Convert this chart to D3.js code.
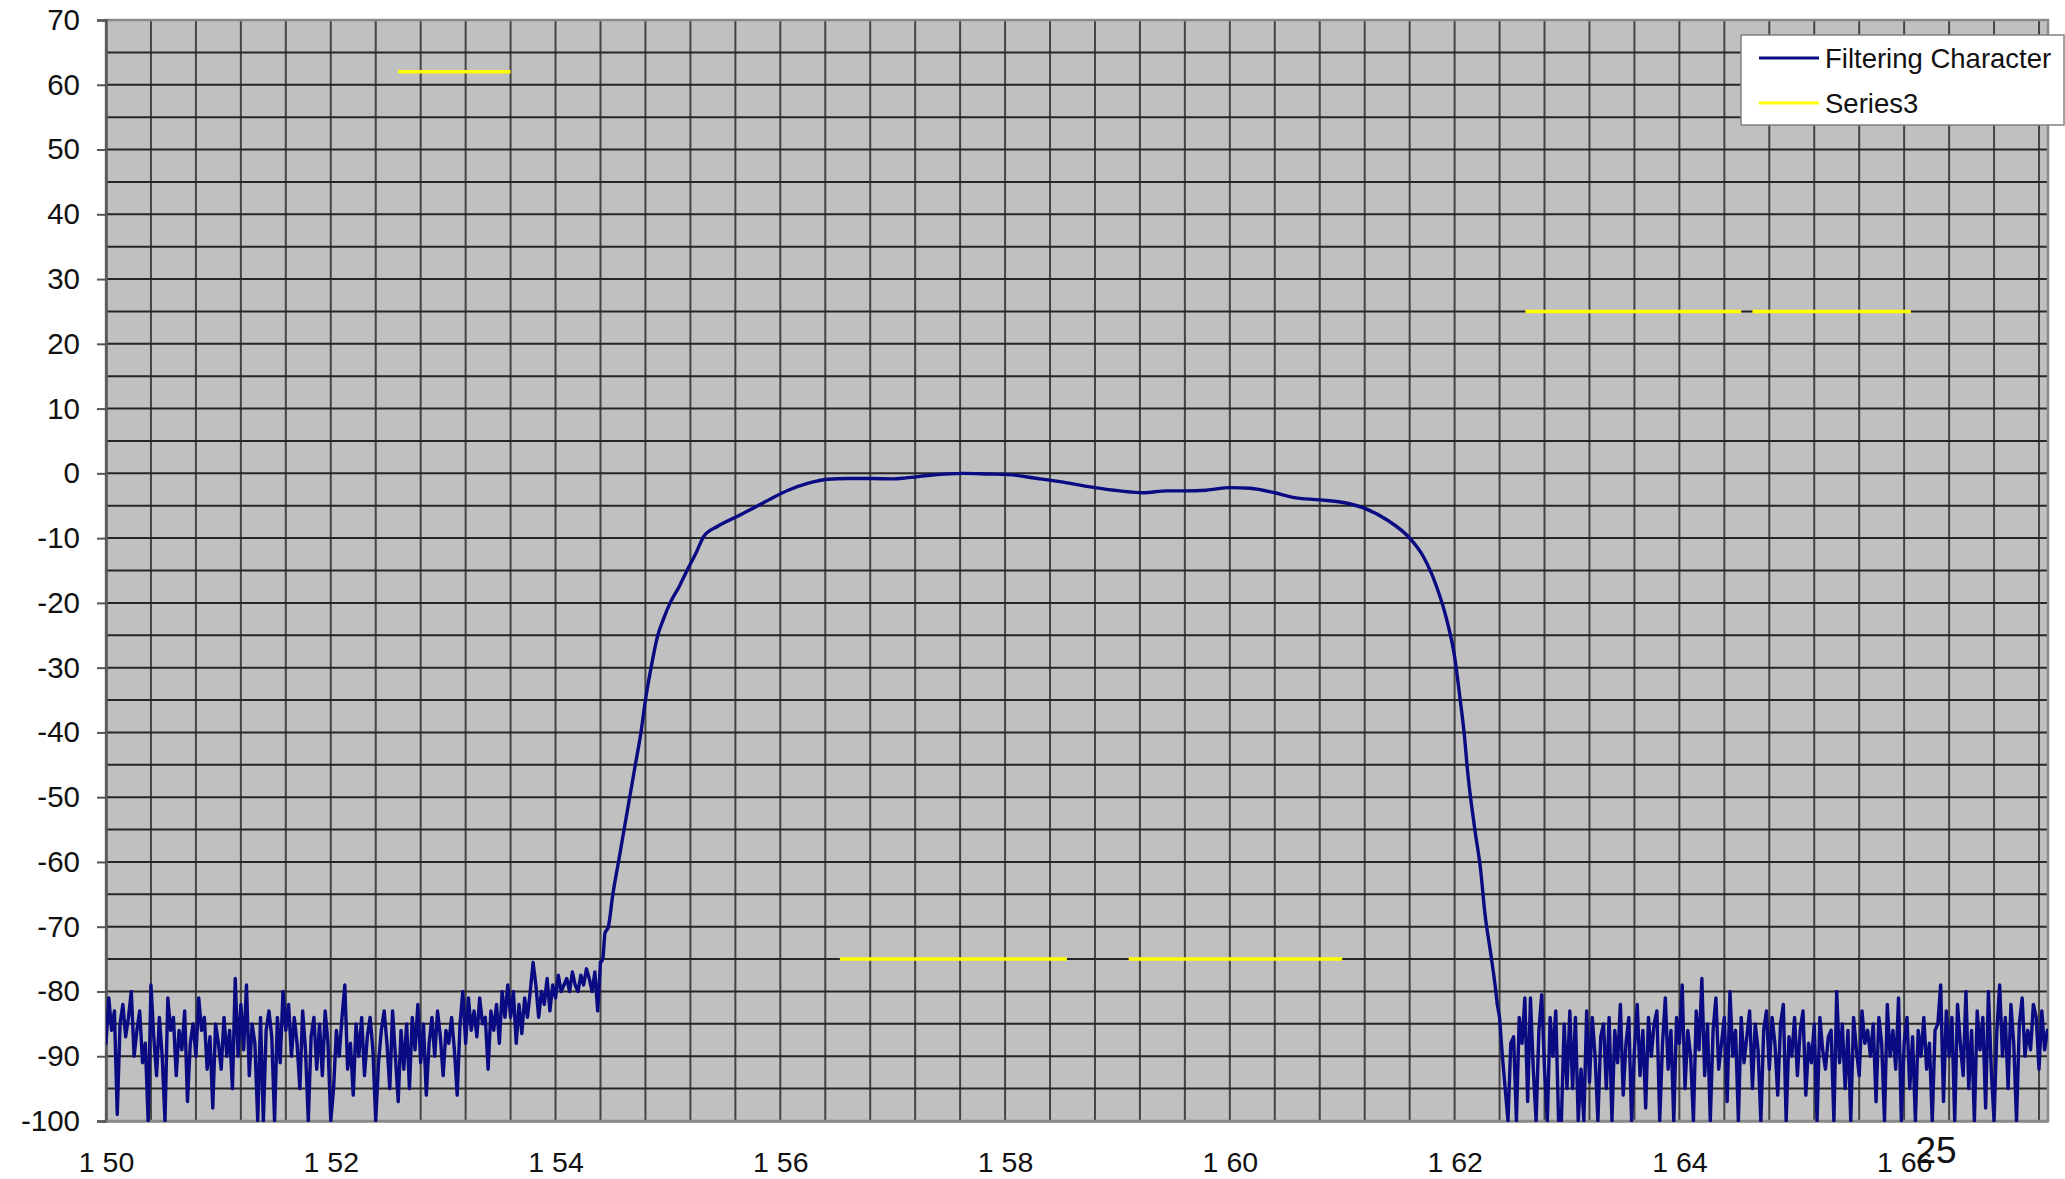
<!DOCTYPE html>
<html>
<head>
<meta charset="utf-8">
<script src="https://cdn.jsdelivr.net/npm/d3@7/dist/d3.min.js"></script>
<style>
  body { margin: 0; background: #fff; }
  svg { display: block; font-family: "Liberation Sans", Arial, sans-serif; }
</style>
</head>
<body>
<div id="chart"></div>
<script>
// x axis categories (nm) and their odd labels as printed on the chart
const xTickValues = [1500, 1520, 1540, 1560, 1580, 1600, 1620, 1640, 1660];
const xTickLabels = ["1 50", "1 52", "1 54", "1 56", "1 58", "1 60", "1 62", "1 64", "1 66"];
const yTickValues = [-100, -90, -80, -70, -60, -50, -40, -30, -20, -10, 0, 10, 20, 30, 40, 50, 60, 70];

// Filtering Character: noise floor below the band, sampled every 0.25 nm from 1500
const leftNoiseStart = 1500;
const noiseStep = 0.25;
const leftNoise = [
  -88, -81, -86, -83,  -99, -85, -82, -87,  -84, -80, -90, -86,  -83, -91, -88, -100,
  -79, -87, -93, -84,  -90, -100, -81, -86,  -84, -93, -86, -89,  -83, -97, -88, -85,
  -90, -81, -86, -84,  -92, -87, -98, -85,  -88, -92, -84, -90,  -86, -95, -78, -90,
  -82, -89, -79, -93,  -85, -88, -100, -84,  -100, -86, -83, -87,  -100, -84, -91, -80,
  -86, -82, -90, -84,  -88, -95, -83, -89,  -100, -87, -84, -92,  -85, -93, -83, -88,
  -100, -95, -86, -90,  -84, -79, -92, -88,  -96, -85, -90, -84,  -93, -87, -84, -89,
  -100, -91, -86, -83,  -88, -95, -83, -90,  -97, -86, -92, -85,  -95, -84, -89, -82,
  -91, -85, -96, -88,  -84, -90, -83, -87,  -93, -86, -88, -84,  -89, -96, -85, -80,
  -88, -81, -86, -83,  -87, -81, -85, -84,  -92, -83, -86, -82,  -88, -80, -84, -79,
  -84, -80, -88, -82,  -86.5, -81, -84, -80,  -75.5, -79, -84, -80,  -82, -78, -83, -79,
  -81, -77.5, -80, -79,  -78, -80, -77, -79,  -80, -77.5, -79, -76.5,  -78, -80, -77, -83
];

// passband, read point by point
const passbandNm = [
  1544.0, 1544.2, 1544.4, 1544.7, 1545.1, 1545.6, 1546.1, 1546.6, 1547.1, 1547.6,
  1548.0, 1548.5, 1549.1, 1549.6, 1550.2, 1551.0, 1551.7, 1552.5, 1553.2, 1554.4,
  1556.1, 1558.0, 1559.5, 1560.7, 1562.5, 1564.2, 1566.0, 1568.2, 1570.0, 1571.2,
  1573.3, 1576.3, 1578.5, 1580.3, 1582.9, 1585.3, 1588.0, 1590.2, 1592.3, 1594.4,
  1596.0, 1597.9, 1600.0, 1601.8, 1604.0, 1605.6, 1608.0, 1610.1, 1612.0, 1614.0,
  1616.0, 1617.2, 1618.4, 1619.3, 1620.0, 1620.5, 1620.9, 1621.1, 1621.8, 1622.3,
  1622.7, 1623.2, 1623.6, 1623.8
];
const passbandDb = [
  -75.5, -75, -71, -70, -65, -60, -55, -50, -45, -40,
  -35, -30, -25, -22.5, -20, -17.5, -15, -12.3, -9.7, -8.2,
  -6.7, -5, -3.6, -2.6, -1.5, -0.9, -0.8, -0.8, -0.85, -0.7,
  -0.3, 0, -0.1, -0.2, -0.8, -1.4, -2.2, -2.7, -3.0, -2.7,
  -2.7, -2.6, -2.2, -2.3, -3.0, -3.7, -4.1, -4.5, -5.4, -7.2,
  -10, -12.8, -17.5, -22.6, -28.3, -35, -41, -45, -55, -61,
  -68, -74, -79, -82
];

// noise floor above the band, every 0.25 nm from 1624
const rightNoiseStart = 1624;
const rightNoise = [
  -84, -90, -95, -100,  -88, -87, -100, -84,  -88, -81, -97, -81,  -92, -100, -86, -80.5,
  -92, -100, -84, -90,  -83, -100, -100, -85,  -95, -83, -95, -84,  -100, -92, -100, -83,
  -94, -84, -90, -100,  -87, -85, -95, -84,  -100, -86, -91, -82,  -96, -88, -84, -100,
  -89, -82, -93, -86,  -98, -84, -90, -85,  -83, -100, -88, -81,  -92, -86, -100, -84,
  -88, -79, -95, -86,  -90, -100, -83, -89,  -78, -93, -85, -100,  -86, -81, -92, -88,
  -84, -97, -80, -90,  -86, -100, -84, -91,  -87, -83, -95, -85,  -89, -100, -86, -83,
  -92, -84, -88, -96,  -85, -82, -100, -87,  -90, -84, -93, -86,  -83, -96, -88, -91,
  -85, -100, -84, -89,  -92, -87, -86, -100,  -80, -91, -85, -95,  -86, -100, -84, -89,
  -93, -83, -88, -86,  -90, -85, -97, -84,  -88, -100, -82, -90,  -86, -92, -81, -100,
  -88, -84, -95, -87,  -100, -86, -90, -84,  -92, -88, -100, -86,  -85, -79, -97, -83,
  -90, -84, -100, -82,  -88, -93, -80, -95,  -86, -100, -83, -89,  -84, -98, -80, -92,
  -100, -86, -79, -90,  -84, -95, -82, -88,  -100, -85, -81, -90,  -86, -89, -82, -84,
  -92, -83, -89, -86
];

// Series3: flat segments
const series3Start = [1526, 1565.3, 1591, 1626.3, 1646.5];
const series3End   = [1536, 1585.5, 1610, 1645.5, 1660.6];
const series3Level = [62, -75, -75, 25, 25];

const legendNames = ["Filtering Character", "Series3"];
const pageNumber = "25";

class FilterChart {
  constructor(opts) {
    this.element = document.querySelector(opts.element);
    this.width = 2065;
    this.height = 1179;
    this.margin = { left: 106, right: 17, top: 20, bottom: 58 };

    this.plotColor = "#C0C0C0";
    this.lineColor = "#0A0A82";
    this.yellow = "#FFFF00";

    this.draw();
  }

  draw() {
    this.svg = d3.select(this.element).append("svg")
      .attr("width", this.width)
      .attr("height", this.height);

    this.x = d3.scaleLinear()
      .domain([1500, 1672.8])
      .range([this.margin.left, this.width - this.margin.right]);
    this.y = d3.scaleLinear()
      .domain([-100, 70])
      .range([this.height - this.margin.bottom, this.margin.top]);

    this.drawGrid();
    this.drawAxes();
    this.drawSeries();
    this.drawLegend();

    this.svg.append("text")
      .attr("x", 1936).attr("y", 1163)
      .attr("text-anchor", "middle")
      .attr("font-size", 37)
      .attr("fill", "#111")
      .text(pageNumber);
  }

  drawGrid() {
    const [x0, x1] = this.x.range();
    const [y0, y1] = this.y.range();

    this.svg.append("rect")
      .attr("x", x0).attr("y", y1)
      .attr("width", x1 - x0).attr("height", y0 - y1)
      .attr("fill", this.plotColor);

    const g = this.svg.append("g");
    g.selectAll("line.v")
      .data(d3.range(1504, 1672.8, 4))
      .join("line")
      .attr("class", "v")
      .attr("x1", d => this.x(d)).attr("x2", d => this.x(d))
      .attr("y1", y1).attr("y2", y0)
      .attr("stroke", "#444")
      .attr("stroke-width", 2);

    g.selectAll("line.h")
      .data(d3.range(-95, 70, 5))
      .join("line")
      .attr("class", "h")
      .attr("x1", x0).attr("x2", x1)
      .attr("y1", d => this.y(d)).attr("y2", d => this.y(d))
      .attr("stroke", "#262626")
      .attr("stroke-width", 2);

    // plot frame
    this.svg.append("rect")
      .attr("x", x0).attr("y", y1)
      .attr("width", x1 - x0).attr("height", y0 - y1)
      .attr("fill", "none")
      .attr("stroke", "#8a8a8a")
      .attr("stroke-width", 2.5);
  }

  drawAxes() {
    const yAxis = d3.axisLeft(this.y)
      .tickValues(yTickValues)
      .tickSize(9)
      .tickPadding(17)
      .tickFormat(d3.format("d"));

    const ya = this.svg.append("g")
      .attr("transform", `translate(${this.margin.left},0)`)
      .call(yAxis);
    ya.select(".domain").attr("stroke", "#555").attr("stroke-width", 2.5);
    ya.selectAll(".tick line").attr("stroke", "#555").attr("stroke-width", 2);
    ya.selectAll("text")
      .attr("font-size", 29.5)
      .attr("font-family", "Liberation Sans, Arial, sans-serif")
      .attr("fill", "#111")
      .text(d => d < 0 ? "-" + Math.abs(d) : d);

    const xAxis = d3.axisBottom(this.x)
      .tickValues(xTickValues)
      .tickSize(0)
      .tickPadding(31)
      .tickFormat((d, i) => xTickLabels[i]);

    const xa = this.svg.append("g")
      .attr("transform", `translate(0,${this.height - this.margin.bottom})`)
      .call(xAxis);
    xa.select(".domain").attr("stroke", "#8a8a8a").attr("stroke-width", 2.5);
    xa.selectAll("text")
      .attr("font-size", 28.5)
      .attr("font-family", "Liberation Sans, Arial, sans-serif")
      .attr("fill", "#111");
  }

  drawSeries() {
    const [x0, x1] = this.x.range();
    const [y0, y1] = this.y.range();

    this.svg.append("clipPath").attr("id", "plotClip")
      .append("rect")
      .attr("x", x0).attr("y", y1 - 2)
      .attr("width", x1 - x0).attr("height", y0 - y1 + 3);

    const left = leftNoise.map((v, i) => ({ nm: leftNoiseStart + i * noiseStep, db: v }));
    const band = passbandNm.map((nm, i) => ({ nm, db: passbandDb[i] }));
    const right = rightNoise.map((v, i) => ({ nm: rightNoiseStart + i * noiseStep, db: v }));

    const sharp = d3.line()
      .x(d => this.x(d.nm))
      .y(d => this.y(d.db));
    const smooth = d3.line()
      .curve(d3.curveMonotoneX)
      .x(d => this.x(d.nm))
      .y(d => this.y(d.db));

    const parts = [
      { data: left.concat(band[0]), gen: sharp },
      { data: band, gen: smooth },
      { data: [band[band.length - 1]].concat(right), gen: sharp }
    ];

    this.svg.append("g")
      .attr("clip-path", "url(#plotClip)")
      .selectAll("path")
      .data(parts)
      .join("path")
      .attr("d", d => d.gen(d.data))
      .attr("fill", "none")
      .attr("stroke", this.lineColor)
      .attr("stroke-width", 3.4)
      .attr("stroke-linejoin", "round")
      .attr("stroke-linecap", "round");

    this.svg.append("g").selectAll("line")
      .data(series3Start.map((s, i) => ({ s, e: series3End[i], v: series3Level[i] })))
      .join("line")
      .attr("x1", d => this.x(d.s)).attr("x2", d => this.x(d.e))
      .attr("y1", d => this.y(d.v)).attr("y2", d => this.y(d.v))
      .attr("stroke", this.yellow)
      .attr("stroke-width", 3.5);
  }

  drawLegend() {
    const g = this.svg.append("g").attr("transform", "translate(1741,35)");
    g.append("rect")
      .attr("width", 323).attr("height", 90)
      .attr("fill", "#fff")
      .attr("stroke", "#808080")
      .attr("stroke-width", 1.5);

    const colors = [this.lineColor, this.yellow];
    const rows = g.selectAll("g.row")
      .data(legendNames)
      .join("g")
      .attr("class", "row")
      .attr("transform", (d, i) => `translate(0,${23 + i * 45})`);
    rows.append("line")
      .attr("x1", 18).attr("x2", 78)
      .attr("stroke", (d, i) => colors[i])
      .attr("stroke-width", 3);
    rows.append("text")
      .attr("x", 84).attr("y", 10)
      .attr("font-size", 27.5)
      .attr("fill", "#111")
      .text(d => d);
  }
}

new FilterChart({ element: "#chart" });
</script>
</body>
</html>
